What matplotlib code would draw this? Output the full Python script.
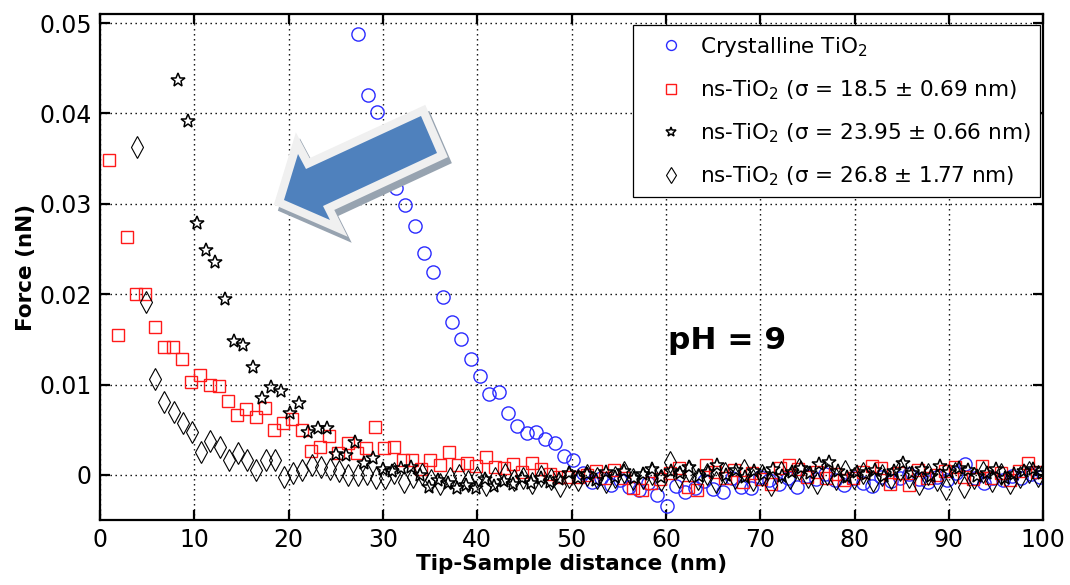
import numpy as np
import matplotlib
matplotlib.use("Agg")
import matplotlib.pyplot as plt
from matplotlib.patches import Polygon

# ---- data (x grids are uniform sampling, y values by hand)
cryst_x0, cryst_dx = 27.4, 0.99
cryst_y = [0.0488, 0.0420, 0.0402, 0.0355, 0.0318, 0.0299, 0.0275, 0.0246, 0.0225, 0.0197,
           0.0169, 0.0150, 0.0128, 0.0109, 0.0089, 0.0092, 0.0068, 0.0054, 0.0046, 0.0047,
           0.0040, 0.0035, 0.0021, 0.0017, 0.0002, -0.0008, -0.0003, -0.0011, -0.0006, -0.0013,
           -0.0017, -0.0009, -0.0022, -0.0034, -0.0012, -0.0019, -0.0014, -0.0007, -0.0016, -0.0019,
           -0.0004, -0.0013, -0.0015, -0.0002, -0.0006, -0.0010, -0.0003, -0.0013, -0.0001, -0.0005,
           0.0001, -0.0006, -0.0011, -0.0004, -0.0009, -0.0012, -0.0002, -0.0007, -0.0003, 0.0001,
           -0.0005, -0.0008, -0.0002, -0.0006, 0.0002, 0.0012, -0.0004, -0.0009, -0.0003, -0.0006,
           -0.0001, -0.0004, 0.0001, -0.0002]

ns185_x0, ns185_dx = 0.9, 0.975
ns185_y = [0.0348, 0.0155, 0.0263, 0.0200, 0.0200, 0.0164, 0.0142, 0.0142, 0.0128, 0.0103,
           0.0111, 0.0100, 0.0098, 0.0082, 0.0066, 0.0073, 0.0064, 0.0074, 0.0050, 0.0057,
           0.0062, 0.0050, 0.0026, 0.0031, 0.0043, 0.0024, 0.0035, 0.0024, 0.0030, 0.0053,
           0.0030, 0.0031, 0.0017, 0.0017, 0.0006, 0.0017, 0.0011, 0.0025, 0.0011, 0.0013,
           0.0010, 0.0020, 0.0009, 0.0008, 0.0012, 0.0003, 0.0013, 0.0006, 0.0001, -0.0002,
           -0.0002, -0.0002, 0.0000, 0.0004, -0.0003, 0.0005, -0.0003, -0.0015, -0.0017, -0.0009,
           -0.0005, 0.0002, 0.0008, -0.0013, -0.0017, 0.0011, 0.0003, -0.0004, 0.0005, -0.0008,
           0.0002, -0.0005, -0.0010, 0.0008, 0.0011, 0.0006, -0.0002, 0.0003, -0.0004, 0.0001,
           -0.0006, -0.0004, 0.0003, 0.0010, 0.0008, -0.0010, 0.0002, -0.0011, 0.0005, -0.0003,
           0.0000, 0.0004, 0.0009, -0.0002, -0.0005, 0.0010, -0.0003, 0.0002, -0.0006, 0.0004,
           0.0013, 0.0003]

ns2395_x0, ns2395_dx = 8.3, 0.985
ns2395_y = [0.0437, 0.0392, 0.0279, 0.0249, 0.0236, 0.0195, 0.0148, 0.0144, 0.0119, 0.0085,
            0.0097, 0.0093, 0.0068, 0.0079, 0.0047, 0.0052, 0.0052, 0.0023, 0.0022, 0.0036,
            0.0013, 0.0019, 0.0007, 0.0004, 0.0008, 0.0009, 0.0000, -0.0013, -0.0006, -0.0009,
            -0.0014, -0.0011, -0.0014, -0.0005, -0.0012, -0.0007, -0.0010, -0.0004, -0.0009, -0.0003,
            -0.0008, -0.0005, 0.0002, -0.0004, 0.0001, -0.0006, 0.0003, -0.0002, 0.0004, -0.0003,
            0.0001, 0.0006, -0.0002, 0.0004, 0.0002, 0.0009, -0.0001, 0.0003, 0.0011, 0.0000,
            0.0005, -0.0002, 0.0004, 0.0001, 0.0006, -0.0001, 0.0003, 0.0008, 0.0002, 0.0012,
            0.0014, 0.0004, -0.0002, 0.0003, 0.0001, 0.0005, -0.0001, 0.0004, 0.0013, 0.0002,
            0.0006, -0.0001, 0.0010, 0.0003, 0.0008, 0.0005, -0.0001, 0.0002, 0.0006, -0.0003,
            0.0001, 0.0004, 0.0007, 0.0002]

ns268_x0, ns268_dx = 3.9, 0.975
ns268_y = [0.0363, 0.0191, 0.0106, 0.0081, 0.0070, 0.0057, 0.0048, 0.0025, 0.0037, 0.0031,
           0.0016, 0.0024, 0.0017, 0.0005, 0.0016, 0.0016, -0.0002, 0.0002, 0.0005, 0.0011,
           0.0009, 0.0006, 0.0004, 0.0000, 0.0000, 0.0001, -0.0003, -0.0004, 0.0002, -0.0008,
           -0.0002, 0.0001, -0.0006, -0.0010, -0.0003, 0.0000, -0.0007, -0.0002, -0.0011, -0.0004,
           0.0001, -0.0006, -0.0003, -0.0009, -0.0001, -0.0005, -0.0012, -0.0002, -0.0006, 0.0000,
           -0.0004, -0.0008, -0.0002, 0.0003, -0.0005, -0.0003, 0.0001, -0.0006, 0.0014, -0.0002,
           0.0004, -0.0005, 0.0001, -0.0008, 0.0002, -0.0003, 0.0005, -0.0006, 0.0000, -0.0011,
           0.0003, -0.0004, 0.0006, -0.0002, -0.0009, 0.0001, -0.0005, 0.0004, -0.0003, 0.0002,
           -0.0007, 0.0000, -0.0004, 0.0005, -0.0002, -0.0010, 0.0001, -0.0006, -0.0016, 0.0002,
           -0.0013, -0.0004, 0.0003, -0.0007, 0.0001, -0.0009, -0.0002, 0.0003, -0.0001]

labels = ['Crystalline TiO$_2$',
          'ns-TiO$_2$ (\u03c3 = 18.5 \u00b1 0.69 nm)',
          'ns-TiO$_2$ (\u03c3 = 23.95 \u00b1 0.66 nm)',
          'ns-TiO$_2$ (\u03c3 = 26.8 \u00b1 1.77 nm)']

xticks = [0, 10, 20, 30, 40, 50, 60, 70, 80, 90, 100]
yticks = [0, 0.01, 0.02, 0.03, 0.04, 0.05]
ytick_labels = ['0', '0.01', '0.02', '0.03', '0.04', '0.05']


def grid_x(x0, dx, vals):
    return x0 + dx * np.arange(len(vals))


fig = plt.figure(figsize=(10.7, 5.85), dpi=100)
ax = fig.add_axes([0.0935, 0.111, 0.8815, 0.865])

ax.plot(grid_x(cryst_x0, cryst_dx, cryst_y), cryst_y, linestyle='none', marker='o',
        ms=9.5, mfc='none', mec='#2b2bff', mew=1.0, label=labels[0])
ax.plot(grid_x(ns185_x0, ns185_dx, ns185_y), ns185_y, linestyle='none', marker='s',
        ms=9, mfc='none', mec='#ff1a1a', mew=1.0, label=labels[1])
ax.plot(grid_x(ns2395_x0, ns2395_dx, ns2395_y), ns2395_y, linestyle='none', marker='*',
        ms=10, mfc='none', mec='black', mew=1.1, label=labels[2])
ax.plot(grid_x(ns268_x0, ns268_dx, ns268_y), ns268_y, linestyle='none', marker='d',
        ms=11, mfc='none', mec='black', mew=0.8, label=labels[3])

ax.set_xlim(0, 100)
ax.set_ylim(-0.005, 0.051)
ax.set_xticks(xticks)
ax.set_yticks(yticks)
ax.set_yticklabels(ytick_labels)
ax.grid(True, color='black', linestyle=(0, (1, 2.6)), linewidth=1.0)
ax.tick_params(direction='in', top=True, right=True, length=7, width=1.6,
               labelsize=17, pad=6)
for s in ax.spines.values():
    s.set_linewidth(1.6)

ax.set_xlabel('Tip-Sample distance (nm)', fontsize=15.5, fontweight='bold', labelpad=1)
ax.set_ylabel('Force (nN)', fontsize=15.5, fontweight='bold', labelpad=2)

ax.text(60.2, 0.0149, 'pH = 9', fontsize=22.5, fontweight='bold', va='center', ha='left')

leg = ax.legend(loc='upper right', bbox_to_anchor=(0.997, 0.978), borderaxespad=0,
                fontsize=15.5, fancybox=False, framealpha=1, edgecolor='black',
                markerscale=0.75, handlelength=2.6, handletextpad=0.05,
                labelspacing=0.9, borderpad=0.45)
leg.get_frame().set_linewidth(0.9)

# ---- the big blue arrow (figure pixel coordinates, y downwards)
arrow_px = [(284, 200), (330, 220), (323, 206), (437, 153), (421, 116), (306, 169), (298, 154)]
W, H = 1070.0, 585.0


def to_fig(pts, dx=0, dy=0):
    return [((x + dx) / W, 1 - (y + dy) / H) for x, y in pts]


shadow = Polygon(to_fig(arrow_px, 4, 6), closed=True, transform=fig.transFigure,
                 facecolor='#97a3b0', edgecolor='#97a3b0', linewidth=12, joinstyle='miter',
                 zorder=20, clip_on=False)
border = Polygon(to_fig(arrow_px), closed=True, transform=fig.transFigure,
                 facecolor='#f0f0f0', edgecolor='#f0f0f0', linewidth=12, joinstyle='miter',
                 zorder=21, clip_on=False)
body = Polygon(to_fig(arrow_px), closed=True, transform=fig.transFigure,
               facecolor='#4f81bd', edgecolor='none', zorder=22, clip_on=False)
for p in (shadow, border, body):
    fig.patches.append(p)

fig.savefig('out.png', dpi=100)
